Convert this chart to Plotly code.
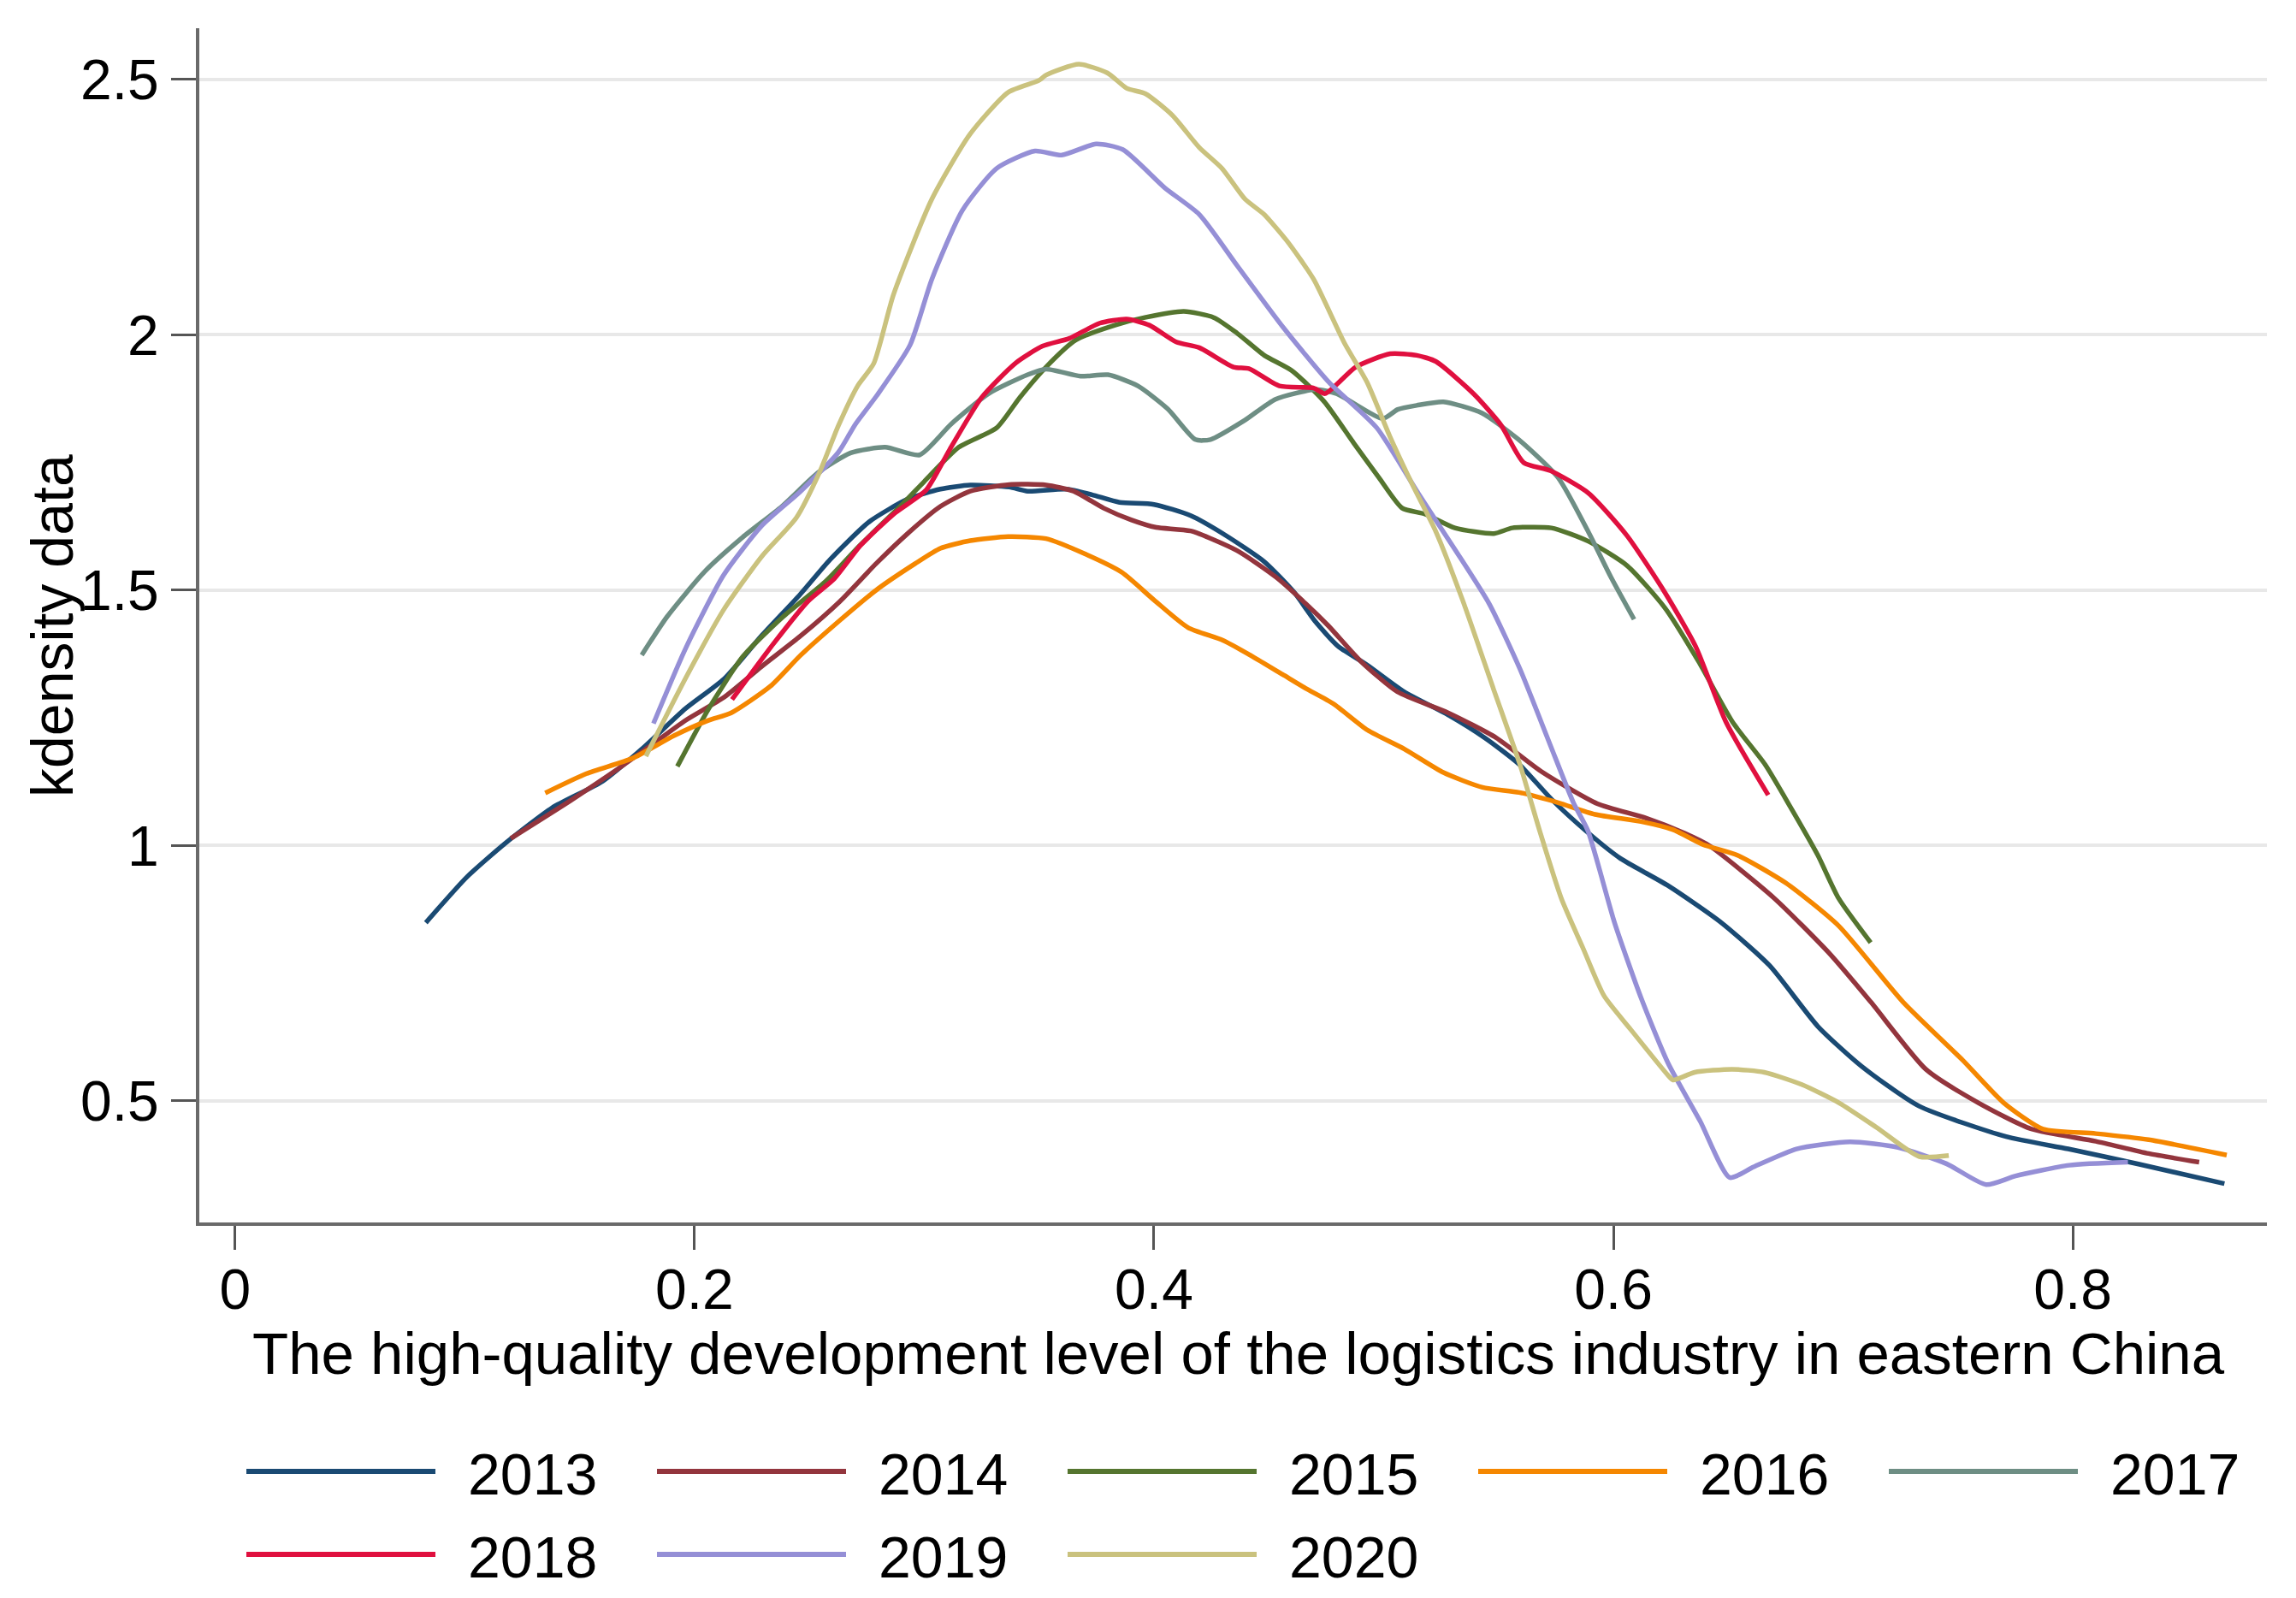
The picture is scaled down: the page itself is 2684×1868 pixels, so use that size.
import plotly.graph_objects as go

years = ["2013", "2014", "2015", "2016", "2017", "2018", "2019", "2020"]
colors = ["#1a4a73", "#93353d", "#55752f", "#f58700", "#6e8e84", "#e0103f", "#958fd6", "#cac27e"]

x2013 = [0.083, 0.101, 0.118, 0.138, 0.160, 0.178, 0.196, 0.213, 0.229, 0.246, 0.259, 0.276, 0.293, 0.307,
         0.320, 0.337, 0.345, 0.362, 0.373, 0.385, 0.400, 0.416, 0.431, 0.448, 0.461, 0.470, 0.480, 0.493,
         0.509, 0.528, 0.544, 0.559, 0.573, 0.589, 0.603, 0.624, 0.647, 0.668, 0.689, 0.708, 0.733, 0.771,
         0.798, 0.829, 0.866]
y2013 = [0.849, 0.939, 1.006, 1.074, 1.126, 1.193, 1.268, 1.327, 1.410, 1.492, 1.560, 1.634, 1.679, 1.698,
         1.706, 1.702, 1.694, 1.698, 1.687, 1.672, 1.668, 1.646, 1.608, 1.556, 1.496, 1.440, 1.391, 1.353,
         1.301, 1.256, 1.211, 1.159, 1.091, 1.025, 0.975, 0.921, 0.849, 0.765, 0.646, 0.568, 0.490, 0.430,
         0.406, 0.376, 0.338]

x2014 = [0.120, 0.146, 0.166, 0.180, 0.196, 0.213, 0.229, 0.246, 0.263, 0.279, 0.293, 0.307, 0.320, 0.337,
         0.353, 0.365, 0.378, 0.390, 0.401, 0.416, 0.436, 0.453, 0.466, 0.476, 0.490, 0.506, 0.528, 0.549,
         0.569, 0.593, 0.614, 0.631, 0.642, 0.670, 0.694, 0.712, 0.736, 0.759, 0.782, 0.810, 0.833, 0.855]
y2014 = [1.014, 1.088, 1.148, 1.193, 1.245, 1.291, 1.350, 1.410, 1.477, 1.552, 1.612, 1.664, 1.694, 1.707,
         1.706, 1.694, 1.661, 1.638, 1.623, 1.616, 1.578, 1.526, 1.474, 1.430, 1.361, 1.301, 1.260, 1.211,
         1.144, 1.082, 1.054, 1.024, 0.999, 0.897, 0.789, 0.694, 0.562, 0.496, 0.445, 0.421, 0.397, 0.380]

x2015 = [0.1925, 0.206, 0.221, 0.238, 0.257, 0.272, 0.291, 0.300, 0.315, 0.3315, 0.3415, 0.353, 0.366, 0.383,
         0.396, 0.413, 0.426, 0.436, 0.448, 0.460, 0.474, 0.487, 0.498, 0.508, 0.518, 0.531, 0.548, 0.556,
         0.573, 0.589, 0.606, 0.6225, 0.637, 0.652, 0.666, 0.677, 0.689, 0.698, 0.712]
y2015 = [1.155, 1.267, 1.370, 1.446, 1.517, 1.588, 1.671, 1.713, 1.780, 1.818, 1.877, 1.937, 1.990, 2.019,
         2.034, 2.046, 2.034, 2.004, 1.960, 1.930, 1.870, 1.788, 1.720, 1.661, 1.649, 1.622, 1.611, 1.622,
         1.622, 1.596, 1.548, 1.465, 1.361, 1.241, 1.159, 1.076, 0.981, 0.897, 0.810]

x2016 = [0.135, 0.153, 0.173, 0.191, 0.206, 0.216, 0.233, 0.246, 0.263, 0.279, 0.296, 0.307, 0.320, 0.3365,
         0.353, 0.370, 0.386, 0.400, 0.4148, 0.430, 0.443, 0.456, 0.466, 0.478, 0.493, 0.509, 0.526, 0.543,
         0.559, 0.576, 0.592, 0.612, 0.626, 0.639, 0.654, 0.675, 0.698, 0.726, 0.752, 0.770, 0.787, 0.810,
         0.833, 0.867]
y2016 = [1.103, 1.141, 1.171, 1.215, 1.245, 1.260, 1.312, 1.372, 1.440, 1.500, 1.552, 1.582, 1.597, 1.605,
         1.601, 1.571, 1.535, 1.481, 1.427, 1.402, 1.370, 1.335, 1.308, 1.278, 1.226, 1.189, 1.143, 1.114,
         1.104, 1.084, 1.061, 1.047, 1.031, 1.002, 0.981, 0.927, 0.843, 0.694, 0.580, 0.496, 0.445, 0.436,
         0.424, 0.394]

x2017 = [0.177, 0.188, 0.2045, 0.221, 0.238, 0.254, 0.268, 0.283, 0.298, 0.3116, 0.328, 0.345, 0.353, 0.368,
         0.380, 0.393, 0.406, 0.418, 0.4246, 0.4396, 0.4529, 0.4705, 0.4795, 0.4995, 0.5061, 0.5144, 0.526,
         0.5427, 0.559, 0.576, 0.589, 0.599, 0.609]
y2017 = [1.373, 1.448, 1.537, 1.604, 1.664, 1.731, 1.769, 1.780, 1.765, 1.825, 1.885, 1.922, 1.933, 1.919,
         1.922, 1.900, 1.855, 1.795, 1.795, 1.833, 1.874, 1.893, 1.885, 1.836, 1.854, 1.862, 1.869,
         1.847, 1.794, 1.720, 1.615, 1.525, 1.443]

x2018 = [0.2163, 0.2343, 0.2495, 0.2609, 0.2723, 0.2875, 0.3008, 0.311, 0.3249, 0.3398, 0.3515, 0.3631,
         0.3764, 0.3881, 0.398, 0.4097, 0.4197, 0.4346, 0.4413, 0.4546, 0.4695, 0.4745, 0.4878, 0.5028,
         0.5144, 0.5227, 0.5393, 0.551, 0.5609, 0.5726, 0.5892, 0.6059, 0.6225, 0.6358, 0.6491, 0.6674]
y2018 = [1.286, 1.395, 1.479, 1.523, 1.588, 1.652, 1.696, 1.775, 1.877, 1.945, 1.978, 1.993,
         2.023, 2.031, 2.019, 1.986, 1.975, 1.937, 1.934, 1.900, 1.896, 1.885, 1.937, 1.963,
         1.960, 1.948, 1.884, 1.824, 1.750, 1.734, 1.690, 1.607, 1.495, 1.390, 1.241, 1.099]

x2019 = [0.1821, 0.1963, 0.2127, 0.2294, 0.2462, 0.2626, 0.270, 0.2793, 0.2938, 0.3033, 0.3166, 0.3315,
         0.3482, 0.3598, 0.3748, 0.3864, 0.4047, 0.4197, 0.4363, 0.4562, 0.4762, 0.497, 0.515, 0.531,
         0.546, 0.5593, 0.5726, 0.5826, 0.5889, 0.6005, 0.6122, 0.6238, 0.6378, 0.6506, 0.6611, 0.6797,
         0.703, 0.7239, 0.745, 0.7623, 0.7751, 0.7984, 0.824]
y2019 = [1.239, 1.388, 1.530, 1.627, 1.694, 1.770, 1.825, 1.881, 1.980, 2.109, 2.244, 2.326,
         2.360, 2.352, 2.374, 2.363, 2.288, 2.236, 2.135, 2.015, 1.907, 1.818, 1.690, 1.580,
         1.473, 1.346, 1.196, 1.084, 1.029, 0.849, 0.700, 0.574, 0.460, 0.350, 0.371, 0.406,
         0.420, 0.409, 0.377, 0.336, 0.353, 0.374, 0.380]

x2020 = [0.1788, 0.196, 0.2127, 0.2294, 0.2443, 0.2544, 0.2626, 0.271, 0.278, 0.2866, 0.3033, 0.3199,
         0.3365, 0.3498, 0.3531, 0.3673, 0.3797, 0.3881, 0.3964, 0.408, 0.4197, 0.4296, 0.4396, 0.4479,
         0.4579, 0.4695, 0.4828, 0.4928, 0.5028, 0.5127, 0.5227, 0.5344, 0.5477, 0.5593, 0.5679, 0.5773,
         0.5866, 0.5959, 0.6075, 0.6238, 0.626, 0.6354, 0.6517, 0.6657, 0.682, 0.6983, 0.7146, 0.7332, 0.746]
y2020 = [1.175, 1.327, 1.462, 1.567, 1.642, 1.731, 1.822, 1.900, 1.944, 2.079, 2.266, 2.393,
         2.475, 2.498, 2.509, 2.530, 2.513, 2.483, 2.472, 2.430, 2.367, 2.326, 2.266, 2.236,
         2.184, 2.109, 1.985, 1.907, 1.800, 1.705, 1.615, 1.480, 1.308, 1.159, 1.029, 0.897,
         0.801, 0.706, 0.640, 0.550, 0.541, 0.556, 0.562, 0.556, 0.532, 0.496, 0.448, 0.391, 0.393]

series_x = [x2013, x2014, x2015, x2016, x2017, x2018, x2019, x2020]
series_y = [y2013, y2014, y2015, y2016, y2017, y2018, y2019, y2020]

x_title = "The high-quality development level of the logistics industry in eastern China"
y_title = "kdensity data"

W, H = 2684, 1868
OFF = 8  # page body margin offset
# plot box in page pixels
PL, PR, PT, PB = 233, 2650, 33, 1429
L, T = PL - OFF, PT - OFF
R, B = W - (PR - OFF), H - (PB - OFF)
FONT = "Liberation Sans, Arial, sans-serif"

fig = go.Figure()
for name, col, xs, ys in zip(years, colors, series_x, series_y):
    fig.add_trace(go.Scatter(x=xs, y=ys, mode="lines", name=name,
                             line=dict(color=col, width=5.5, shape="spline", smoothing=0.6),
                             showlegend=False))

plot_w = PR - PL
plot_h = PB - PT


def px_to_paper(px, py):
    return (px - PL) / plot_w, (PB - py) / plot_h


# custom legend (Stata-style long line keys), two rows of five
shapes = []
annotations = []
for i, (name, col) in enumerate(zip(years, colors)):
    row, c = divmod(i, 5)
    px0 = 288 + c * 480
    px1 = px0 + 221
    py = 1720 + row * 97
    xa, ya = px_to_paper(px0, py)
    xb, _ = px_to_paper(px1, py)
    xt, yt = px_to_paper(px1 + 36, py + 3)
    shapes.append(dict(type="line", xref="paper", yref="paper",
                       x0=xa, x1=xb, y0=ya, y1=ya, line=dict(color=col, width=6)))
    annotations.append(dict(text=name, xref="paper", yref="paper", x=xt, y=yt,
                            xanchor="left", yanchor="middle", showarrow=False,
                            font=dict(size=68, color="black", family=FONT)))

xt, yt = px_to_paper(1448, 1582)
annotations.append(dict(text=x_title, xref="paper", yref="paper", x=xt, y=yt,
                        xanchor="center", yanchor="middle",
                        showarrow=False, font=dict(size=69, color="black", family=FONT)))
xt, yt = px_to_paper(61, 732)
annotations.append(dict(text=y_title, xref="paper", yref="paper", x=xt, y=yt,
                        xanchor="center", yanchor="middle", textangle=-90,
                        showarrow=False, font=dict(size=68, color="black", family=FONT)))

fig.update_layout(
    width=W, height=H,
    margin=dict(l=L, r=R, t=T, b=B, autoexpand=False),
    paper_bgcolor="white", plot_bgcolor="white",
    font=dict(family=FONT, size=66, color="black"),
    shapes=shapes, annotations=annotations,
    showlegend=False,
)
fig.update_xaxes(range=[-0.0156, 0.8845], tick0=0, dtick=0.2, showgrid=False, zeroline=False,
                 showline=True, linecolor="#6a6a6a", linewidth=4,
                 ticks="outside", ticklen=28, tickwidth=3, tickcolor="#555555",
                 ticklabelstandoff=-10, tickfont=dict(size=66, family=FONT, color="black"))
fig.update_yaxes(range=[0.262, 2.6005], tick0=0.5, dtick=0.5, showgrid=True, gridcolor="#e8e8e8",
                 gridwidth=4, zeroline=False,
                 showline=True, linecolor="#6a6a6a", linewidth=4,
                 ticks="outside", ticklen=29, tickwidth=3, tickcolor="#555555",
                 ticklabelstandoff=1, tickfont=dict(size=66, family=FONT, color="black"))

fig.write_html("out.html")
